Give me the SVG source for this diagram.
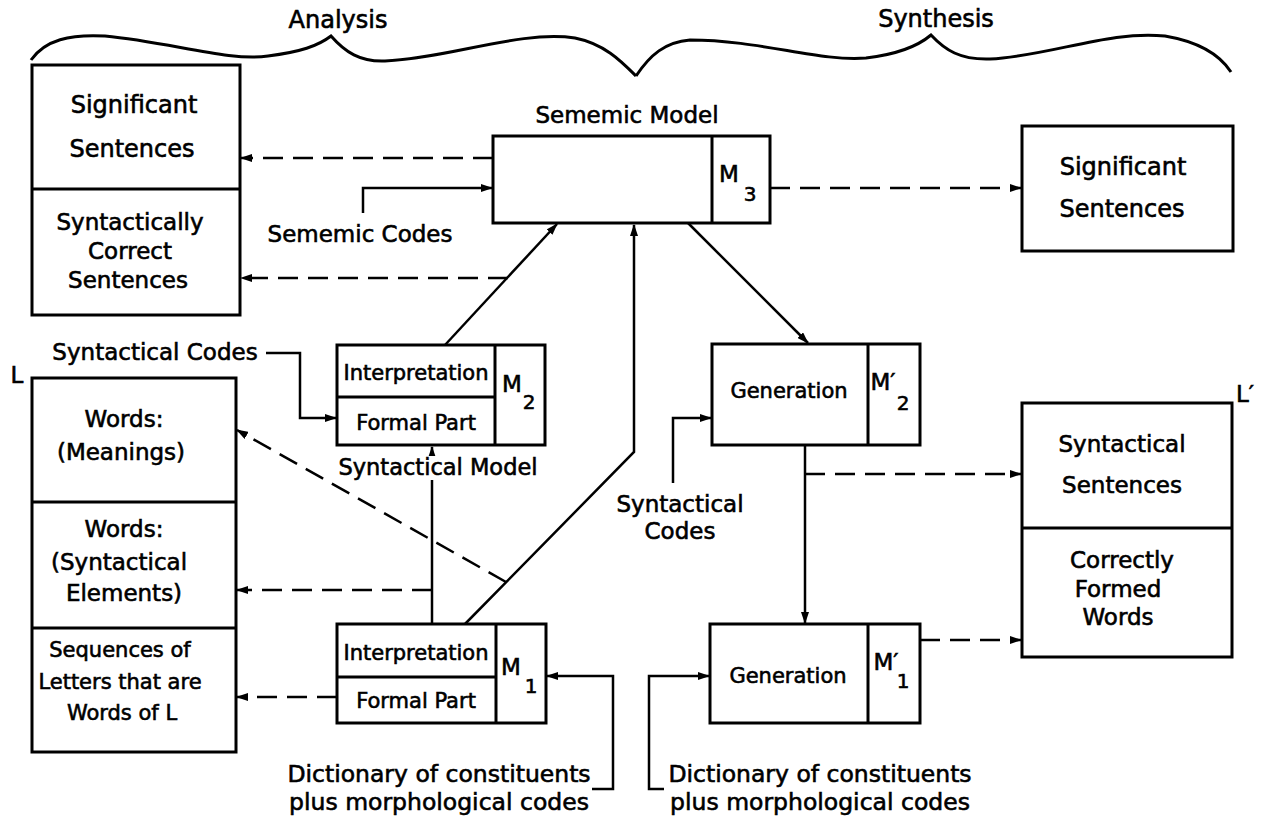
<svg xmlns="http://www.w3.org/2000/svg" width="1263" height="821" viewBox="0 0 1263 821">
<style>
text{font-family:"DejaVu Sans","Liberation Sans",sans-serif;font-size:23px;fill:#000;stroke:#000;stroke-width:0.6;text-anchor:middle}
.box{fill:#fff;stroke:#000;stroke-width:3}
.ln{fill:none;stroke:#000;stroke-width:2.5}
.ds{fill:none;stroke:#000;stroke-width:2.5;stroke-dasharray:20 10}
.br{fill:none;stroke:#000;stroke-width:3}
.sm{font-size:21px}
.sub{font-size:20px}
.big{font-size:24px}
</style>
<defs>
<marker id="a" viewBox="0 0 12 8" refX="11" refY="4" markerWidth="12" markerHeight="8" markerUnits="userSpaceOnUse" orient="auto"><path d="M0,0 L12,4 L0,8 z" fill="#000"/></marker>
</defs>
<g id="braces">
<path class="br" d="M31,60 C45,40 70,34 105,36 C170,42 230,62 268,56 C300,52 318,46 331,36 C345,52 360,62 385,61 C450,58 520,30 575,38 C605,44 622,62 636,76"/>
<path class="br" d="M636,76 C650,55 665,42 690,40 C760,40 820,62 866,58 C900,54 918,46 931,35 C945,50 960,60 990,59 C1050,56 1110,30 1165,36 C1200,42 1220,55 1231,72"/>
<text x="338" y="28" class="big">Analysis</text>
<text x="936" y="27" class="big">Synthesis</text>
</g>
<g id="connectors">
<path class="ds" d="M493,158 H241" marker-end="url(#a)"/>
<path class="ds" d="M508,278 H241" marker-end="url(#a)"/>
<path class="ln" d="M363,213 V188 H492" marker-end="url(#a)"/>
<path class="ln" d="M445,345 L557,224" marker-end="url(#a)"/>
<path class="ln" d="M465,624 L634,452 V225" marker-end="url(#a)"/>
<path class="ln" d="M432,624 V479"/>
<path class="ln" d="M432,458 V447" marker-end="url(#a)"/>
<path class="ds" d="M432,590 H237" marker-end="url(#a)"/>
<path class="ds" d="M337,697 H237" marker-end="url(#a)"/>
<path class="ds" d="M506,582 L237,430" marker-end="url(#a)"/>
<path class="ln" d="M266,353 H300 V418 H336" marker-end="url(#a)"/>
<path class="ln" d="M592,789 H613 V676 H547" marker-end="url(#a)"/>
<path class="ln" d="M664,789 H649 V676 H709" marker-end="url(#a)"/>
<path class="ln" d="M688,223 L808,343" marker-end="url(#a)"/>
<path class="ds" d="M770,188 H1021" marker-end="url(#a)"/>
<path class="ln" d="M805,445 V623" marker-end="url(#a)"/>
<path class="ds" d="M805,474 H1021" marker-end="url(#a)"/>
<path class="ln" d="M673,483 V418 H711" marker-end="url(#a)"/>
<path class="ds" d="M920,640 H1021" marker-end="url(#a)"/>
</g>
<g id="analysis-sentences">
<rect class="box" x="32" y="65" width="208" height="250"/>
<line class="box" x1="32" y1="189" x2="240" y2="189"/>
<text x="134" y="113" class="big">Significant</text>
<text x="132" y="157" class="big">Sentences</text>
<text x="130" y="230">Syntactically</text>
<text x="130" y="259">Correct</text>
<text x="128" y="288">Sentences</text>
</g>
<g id="sememic-model">
<text x="627" y="123">Sememic Model</text>
<rect class="box" x="493" y="136" width="277" height="87"/>
<line class="box" x1="712" y1="136" x2="712" y2="223"/>
<text x="729" y="182">M</text>
<text x="750" y="201" class="sub">3</text>
</g>
<g id="sememic-codes"><text x="360" y="242">Sememic Codes</text></g>
<g id="synthesis-sentences">
<rect class="box" x="1022" y="126" width="211" height="125"/>
<text x="1123" y="175" class="big">Significant</text>
<text x="1122" y="217" class="big">Sentences</text>
</g>
<g id="syntactical-codes-left"><text x="155" y="360">Syntactical Codes</text></g>
<g id="syntactical-model">
<rect class="box" x="337" y="345" width="208" height="100"/>
<line class="box" x1="337" y1="397" x2="495" y2="397"/>
<line class="box" x1="495" y1="345" x2="495" y2="445"/>
<text x="416" y="380" class="sm">Interpretation</text>
<text x="416" y="430" class="sm">Formal Part</text>
<text x="512" y="392">M</text>
<text x="529" y="409" class="sub">2</text>
<rect x="338" y="456" width="200" height="24" fill="#fff"/>
<text x="438" y="475" style="font-size:22.5px">Syntactical Model</text>
</g>
<g id="language-L">
<text x="17" y="383">L</text>
<rect class="box" x="32" y="378" width="204" height="374"/>
<line class="box" x1="32" y1="502" x2="236" y2="502"/>
<line class="box" x1="32" y1="628" x2="236" y2="628"/>
<text x="124" y="427">Words:</text>
<text x="121" y="460">(Meanings)</text>
<text x="124" y="537">Words:</text>
<text x="119" y="570">(Syntactical</text>
<text x="124" y="601">Elements)</text>
<text x="120" y="657" class="sm">Sequences of</text>
<text x="120" y="689" class="sm">Letters that are</text>
<text x="122" y="720" class="sm">Words of L</text>
</g>
<g id="model-M1">
<rect class="box" x="337" y="624" width="209" height="99"/>
<line class="box" x1="337" y1="677" x2="496" y2="677"/>
<line class="box" x1="496" y1="624" x2="496" y2="723"/>
<text x="416" y="660" class="sm">Interpretation</text>
<text x="416" y="708" class="sm">Formal Part</text>
<text x="511" y="675">M</text>
<text x="531" y="693" class="sub">1</text>
</g>
<g id="dictionary-left">
<text x="439" y="782" style="font-size:23.5px">Dictionary of constituents</text>
<text x="439" y="810" style="font-size:23.5px">plus morphological codes</text>
</g>
<g id="model-M2prime">
<rect class="box" x="712" y="344" width="208" height="101"/>
<line class="box" x1="868" y1="344" x2="868" y2="445"/>
<text x="789" y="398" class="sm">Generation</text>
<text x="883" y="390">M′</text>
<text x="903" y="410" class="sub">2</text>
</g>
<g id="syntactical-codes-right">
<text x="680" y="512">Syntactical</text>
<text x="680" y="539">Codes</text>
</g>
<g id="language-Lprime">
<text x="1245" y="402">L′</text>
<rect class="box" x="1022" y="403" width="210" height="254"/>
<line class="box" x1="1022" y1="528" x2="1232" y2="528"/>
<text x="1122" y="452">Syntactical</text>
<text x="1122" y="493">Sentences</text>
<text x="1122" y="568">Correctly</text>
<text x="1118" y="597">Formed</text>
<text x="1118" y="625">Words</text>
</g>
<g id="model-M1prime">
<rect class="box" x="710" y="624" width="210" height="99"/>
<line class="box" x1="868" y1="624" x2="868" y2="723"/>
<text x="788" y="683" class="sm">Generation</text>
<text x="886" y="670">M′</text>
<text x="903" y="688" class="sub">1</text>
</g>
<g id="dictionary-right">
<text x="820" y="782" style="font-size:23.5px">Dictionary of constituents</text>
<text x="820" y="810" style="font-size:23.5px">plus morphological codes</text>
</g>
</svg>
